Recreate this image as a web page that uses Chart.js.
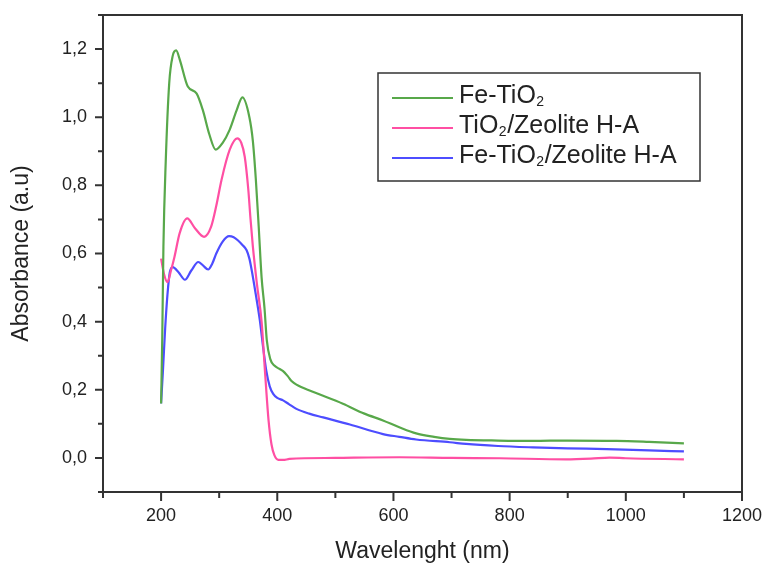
<!DOCTYPE html>
<html>
<head>
<meta charset="utf-8">
<script src="https://cdn.jsdelivr.net/npm/chart.js@4.4.1/dist/chart.umd.min.js"></script>
<style>
body{margin:0;background:#fff;}
#wrap{width:766px;height:565px;}
</style>
</head>
<body>
<div id="wrap"><canvas id="chart" width="766" height="565"></canvas></div>
<script>
/* series labels */
let seriesNames = ["Fe-TiO₂", "TiO₂/Zeolite H-A", "Fe-TiO₂/Zeolite H-A"];
let seriesColors = ["#58a84a", "#ff4fa3", "#4d4dff"];

/* Fe-TiO2 */
let wlGreen = [200,202,204,208,214,220,226,232,246,261,272,283,294,306,318,330,340,352,358,363,368,373,378,382,388,395,403,410,418,425,433,460,513,550,582,610,639,670,697,725,780,840,900,984,1040,1100];
let absGreen = [0.16,0.35,0.62,0.87,1.10,1.18,1.196,1.17,1.09,1.07,1.02,0.95,0.905,0.925,0.963,1.02,1.058,1.00,0.93,0.82,0.68,0.53,0.44,0.345,0.29,0.271,0.262,0.255,0.24,0.225,0.215,0.195,0.159,0.13,0.11,0.09,0.072,0.062,0.056,0.053,0.051,0.050,0.051,0.050,0.047,0.043];

/* TiO2/Zeolite H-A */
let wlPink = [200,205,211,217,223,232,245,258,274,286,295,304,318,331,338,344,350,354,358,365,373,379,385,390,395,402,410,421,500,610,700,783,897,940,972,1000,1100];
let absPink = [0.585,0.54,0.516,0.55,0.59,0.66,0.703,0.675,0.649,0.678,0.74,0.816,0.904,0.938,0.925,0.884,0.79,0.70,0.62,0.51,0.40,0.25,0.11,0.04,0.008,-0.006,-0.006,-0.003,0.0,0.002,0.0,-0.001,-0.004,-0.002,0.001,-0.001,-0.004];

/* Fe-TiO2/Zeolite H-A */
let wlBlue = [200,203,207,211,215,220,230,241,252,264,272,281,288,295,306,317,325,332,340,347,352,356,363,370,376,381,387,393,400,410,420,433,455,479,525,582,610,639,697,725,780,840,900,967,1040,1100];
let absBlue = [0.16,0.25,0.38,0.48,0.545,0.56,0.545,0.523,0.55,0.575,0.565,0.553,0.57,0.60,0.635,0.651,0.648,0.639,0.625,0.61,0.585,0.551,0.48,0.404,0.32,0.257,0.21,0.188,0.176,0.169,0.158,0.144,0.13,0.119,0.098,0.07,0.062,0.054,0.046,0.041,0.035,0.031,0.028,0.026,0.022,0.019];

let xMin = 100, xMax = 1200;
let yMin = -0.1, yMax = 1.3;

function pts(xs, ys){
return xs.map((x,i) => ({x:x, y:ys[i]}));
}

let textColor = "#222";
let frameColor = "#333";
let fontFam = "'Liberation Sans', Arial, sans-serif";

/* frame + tick marks drawn from the scales */
const framePlugin = {
id: "frame",
afterDraw(chart){
let ctx = chart.ctx;
let a = chart.chartArea;
let xs = chart.scales.x, ys = chart.scales.y;
ctx.save();
ctx.strokeStyle = frameColor;
ctx.lineWidth = 2;
ctx.strokeRect(a.left, a.top, a.right - a.left, a.bottom - a.top);
ctx.beginPath();
xs.ticks.forEach(t => {
let px = xs.getPixelForValue(t.value);
let major = Math.round(t.value) % 200 === 0;
ctx.moveTo(px, a.bottom);
ctx.lineTo(px, a.bottom + (major ? 9 : 6));
});
ys.ticks.forEach(t => {
let py = ys.getPixelForValue(t.value);
let k = Math.round(t.value * 10);
let major = k >= 0 && k % 2 === 0;
ctx.moveTo(a.left, py);
ctx.lineTo(a.left - (major ? 8 : 5), py);
});
ctx.stroke();
ctx.restore();
}
};

/* legend box with subscripts */
function drawSub(ctx, str, x, y, size){
let parts = str.split("₂");
parts.forEach((p, i) => {
ctx.font = size + "px " + fontFam;
ctx.fillText(p, x, y);
x += ctx.measureText(p).width;
if(i < parts.length - 1){
ctx.font = Math.round(size * 0.58) + "px " + fontFam;
ctx.fillText("2", x + 0.5, y + 3);
x += ctx.measureText("2").width + 1;
}
});
}

const legendPlugin = {
id: "boxLegend",
afterDraw(chart){
let ctx = chart.ctx;
let a = chart.chartArea;
let bx = a.left + 275, by = a.top + 58, bw = 322, bh = 108;
ctx.save();
ctx.strokeStyle = frameColor;
ctx.lineWidth = 1.5;
ctx.strokeRect(bx, by, bw, bh);
ctx.textBaseline = "alphabetic";
chart.data.datasets.forEach((ds, i) => {
let ly = by + 25 + i * 30;
ctx.strokeStyle = ds.borderColor;
ctx.lineWidth = 2;
ctx.beginPath();
ctx.moveTo(bx + 14, ly);
ctx.lineTo(bx + 75, ly);
ctx.stroke();
ctx.fillStyle = textColor;
drawSub(ctx, ds.label, bx + 81, ly + 5, 25);
});
ctx.restore();
}
};

new Chart(document.getElementById("chart"), {
type: "line",
data: {
datasets: [
{label: seriesNames[0], data: pts(wlGreen, absGreen), borderColor: seriesColors[0]},
{label: seriesNames[1], data: pts(wlPink, absPink), borderColor: seriesColors[1]},
{label: seriesNames[2], data: pts(wlBlue, absBlue), borderColor: seriesColors[2]}
].map(d => Object.assign(d, {borderWidth: 2.2, pointRadius: 0, fill: false, cubicInterpolationMode: "monotone"}))
},
options: {
responsive: false,
animation: false,
layout: {padding: {left: 0, right: 24, top: 15, bottom: 0}},
plugins: {legend: {display: false}, tooltip: {enabled: false}},
scales: {
x: {
type: "linear",
min: xMin, max: xMax,
grid: {display: false, drawTicks: false},
border: {display: false},
ticks: {
stepSize: 100,
padding: 13,
autoSkip: false,
maxRotation: 0,
color: textColor,
font: {family: fontFam, size: 18},
callback: v => (Math.round(v) % 200 === 0 ? String(v) : "")
},
title: {
display: true,
text: "Wavelenght (nm)",
color: textColor,
font: {family: fontFam, size: 23},
padding: {top: 0, bottom: 0}
},
afterFit: s => { s.height = 73; s.paddingLeft = 0; s.paddingRight = 0; }
},
y: {
min: yMin, max: yMax,
grid: {display: false, drawTicks: false},
border: {display: false},
ticks: {
stepSize: 0.1,
padding: 16,
autoSkip: false,
color: textColor,
font: {family: fontFam, size: 18},
callback: v => {
let k = Math.round(v * 10);
return (k >= 0 && k % 2 === 0) ? (k / 10).toFixed(1).replace(".", ",") : "";
}
},
title: {
display: true,
text: "Absorbance (a.u)",
color: textColor,
font: {family: fontFam, size: 23},
padding: {top: 8, bottom: 0}
},
afterFit: s => { s.width = 103; s.paddingTop = 0; s.paddingBottom = 0; }
}
}
},
plugins: [framePlugin, legendPlugin]
});
</script>
</body>
</html>
